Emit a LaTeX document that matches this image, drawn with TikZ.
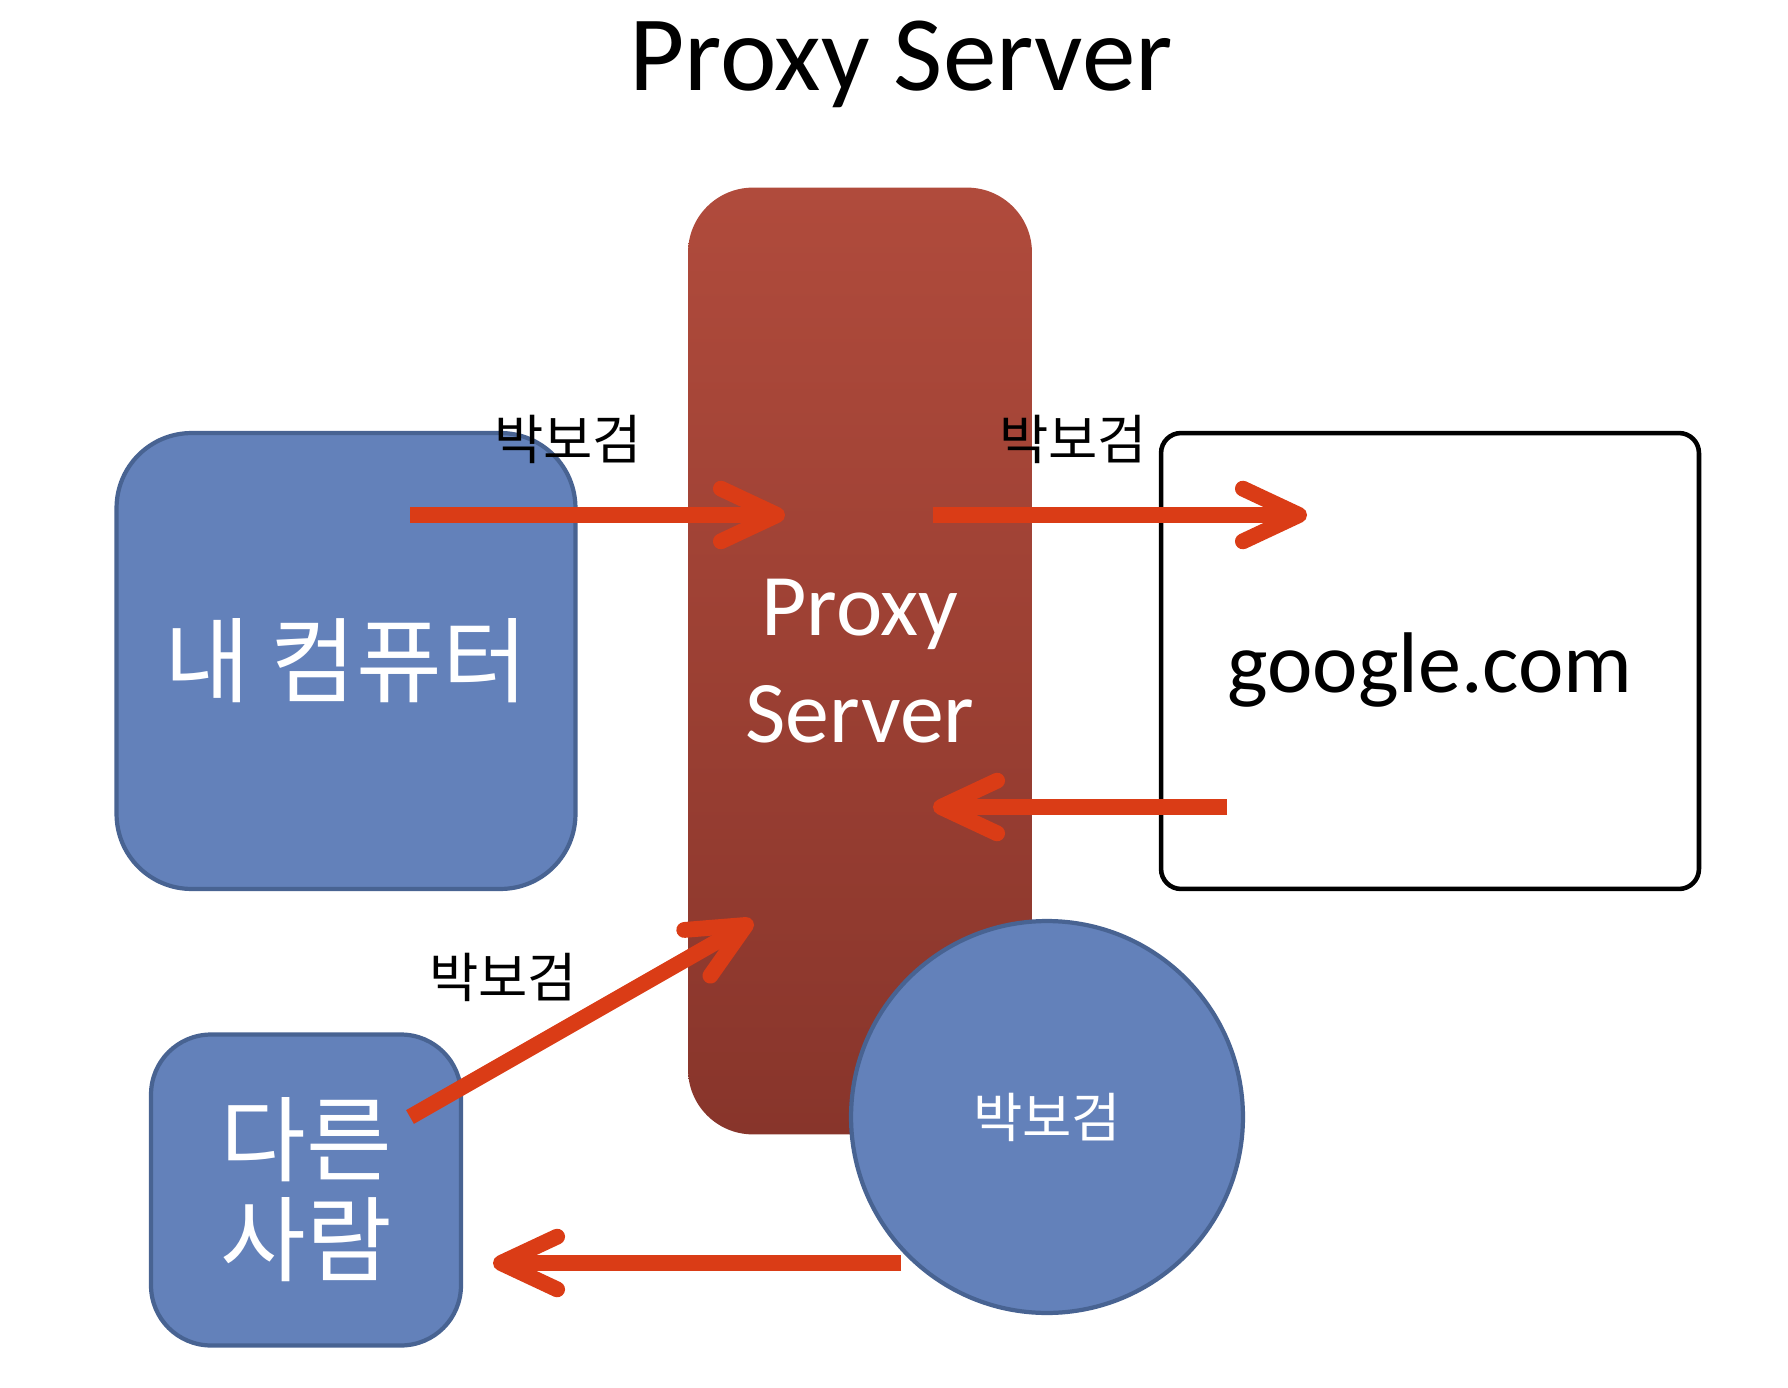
\documentclass[tikz,border=0pt]{standalone}
\usepackage{fontspec}
\setmainfont{Carlito}
\newfontfamily\hangul{Noto Sans CJK KR}
\usetikzlibrary{arrows.meta}
\usetikzlibrary{positioning}

\definecolor{pcblue}{RGB}{99,129,186}
\definecolor{pcedge}{RGB}{72,99,146}
\definecolor{proxytop}{RGB}{176,75,60}
\definecolor{proxybottom}{RGB}{136,53,43}
\definecolor{flowred}{RGB}{218,60,22}

\begin{document}
\begin{tikzpicture}[x=0.02cm, y=-0.02cm,
    bluebox/.style={draw=pcedge, line width=2.4pt, fill=pcblue, text=white, align=center,
      font=\hangul\fontsize{53pt}{57pt}\selectfont},
    flow/.style={draw=flowred, line width=9pt, -{Straight Barb[length=32pt, width=30pt, round]}},
    tag/.style={font=\hangul\fontsize{30.5pt}{33pt}\selectfont}]
    \useasboundingbox (0,0) rectangle (1788,1388);
    \node[font=\fontsize{61pt}{70pt}\selectfont, anchor=base] (title) at (901,91) {Proxy Server};

    % boxes
    \node[rounded corners=1.3cm, top color=proxytop, bottom color=proxybottom,
      minimum width=6.88cm, minimum height=18.94cm, text=white, align=center,
      font=\fontsize{50pt}{61pt}\selectfont] (proxy) at (860,661) {Proxy\\Server};
    \node[bluebox, rounded corners=1.5cm, minimum width=9.18cm, minimum height=9.12cm] (pc) at (346,661) {내 컴퓨터};
    \node[draw, line width=2.6pt, rounded corners=0.4cm, minimum width=10.76cm, minimum height=9.12cm,
      text height=46pt, text depth=10pt, font=\fontsize{49pt}{55pt}\selectfont] (google) at (1430,661) {google.com};
    \node[bluebox, rounded corners=1.2cm, minimum width=6.2cm, minimum height=6.22cm] (other) at (306,1190) {다른\\사람};
    \node[bluebox, circle, minimum size=7.84cm, font=\hangul\fontsize{30.5pt}{33pt}\selectfont] (me) at (1047,1117) {박보검};

    % arrow ends
    \coordinate (pc out) at (410,515);
    \coordinate (proxy in) at (785,515);
    \coordinate (proxy out) at (933,515);
    \coordinate (google in) at (1307,515);
    \coordinate (google out) at (1227,807);
    \coordinate (proxy back) at (933,807);
    \coordinate (other out) at (410,1117);
    \coordinate (proxy in2) at (753,921);
    \coordinate (me out) at (901,1263);
    \coordinate (other in) at (493,1263);

    \draw[flow] (pc out) -- (proxy in);
    \draw[flow] (proxy out) -- (google in);
    \draw[flow] (google out) -- (proxy back);
    \draw[flow] (other out) -- (proxy in2);
    \draw[flow] (me out) -- (other in);

    \node[tag] (tag1) at (568,439) {박보검};
    \node[tag] (tag2) at (1073,439) {박보검};
    \node[tag] (tag3) at (503,977) {박보검};
\end{tikzpicture}
\end{document}
